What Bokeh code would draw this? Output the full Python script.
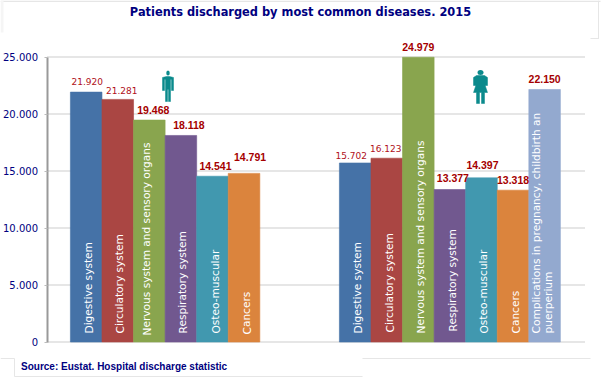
from bokeh.plotting import figure
from bokeh.models import ColumnDataSource, FixedTicker, CustomJSTickFormatter, Range1d, BoxAnnotation
from bokeh.core.properties import value
from bokeh.embed import file_html
from bokeh.resources import INLINE

categories = ["Digestive system", "Circulatory system", "Nervous system and sensory organs",
              "Respiratory system", "Osteo-muscular", "Cancers",
              "Complications in pregnancy, childbirth an\npuerperium"]
men = [21920, 21281, 19468, 18118, 14541, 14791, None]
women = [15702, 16123, 24979, 13377, 14397, 13318, 22150]
tick_values = [0, 5000, 10000, 15000, 20000, 25000]
tick_labels = {0: "0", 5000: "5.000", 10000: "10.000", 15000: "15.000", 20000: "20.000", 25000: "25.000"}
colors = ["#4572A7", "#AA4643", "#89A54E", "#71588F", "#4198AF", "#DB843D", "#93A9CF"]

W, H = 601, 378
L, R, T, B = 46.5, 584.5, 56.5, 341.5   # plot area in page pixels
bw = 31.57
group_px = (R - L) / 2


def yv(py):
    return (B - py) / (B - T) * 25000


p = figure(width=W, height=H, output_backend="svg", toolbar_location=None,
           x_range=Range1d(0, W), y_range=Range1d(yv(H), yv(0)),
           min_border_left=0, min_border_right=0, min_border_top=0, min_border_bottom=0)
p.outline_line_color = None
p.background_fill_color = "white"
p.xgrid.visible = False
p.ygrid.visible = False
p.xaxis.visible = False
p.segment(x0=[L] * len(tick_values), x1=[R] * len(tick_values), y0=tick_values, y1=tick_values,
          line_color="#E6E6E6", line_width=2)
p.yaxis.fixed_location = L
p.yaxis.bounds = (0, 25000)
p.yaxis.ticker = FixedTicker(ticks=tick_values)
p.yaxis.formatter = CustomJSTickFormatter(args=dict(m={str(k): v for k, v in tick_labels.items()}),
                                          code="return m[String(tick)]")
p.yaxis.axis_line_color = "#999999"
p.yaxis.axis_line_width = 2
p.yaxis.major_tick_line_color = "#BBBBBB"
p.yaxis.major_tick_in = 0
p.yaxis.major_tick_out = 3
p.yaxis.minor_tick_line_color = None
p.yaxis.major_label_text_color = "#000080"
p.yaxis.major_label_text_font = "DejaVu Sans"
p.yaxis.major_label_text_font_size = "10px"
p.yaxis.major_label_standoff = 6

# per-label pixel nudges (dx, dy) as in the reference
men_off = [(1, 11), (4, 9), (4, 10), (8, 10), (3, 10), (6, 16)]
women_off = [(-4, 7), (-1, 10), (0, 10), (3, 12), (1, 13), (0, 10), (0, 10)]
men_bold = [False, False, True, True, True, True]
women_bold = [False, False, True, True, True, True, True]
men_lab = [(88, 333), (119, 333), (146, 335), (182, 333), (215, 333), (246, 334)]
women_lab = [(357, 333), (389, 332), (420, 333), (452, 331), (483, 333), (515, 333), (541.5, 333)]

for g, (vals, offs, bolds, labs) in enumerate([(men, men_off, men_bold, men_lab),
                                               (women, women_off, women_bold, women_lab)]):
    centre = L + group_px * (g + 0.5) - 0.6
    idx = [i for i, v in enumerate(vals) if v is not None]
    src = ColumnDataSource(dict(
        x=[centre + (i - 3) * bw for i in idx],
        top=[vals[i] for i in idx],
        color=[colors[i] for i in idx],
    ))
    p.vbar(x="x", top="top", bottom=0, width=bw, fill_color="color", line_color="color",
           line_alpha=0.6, line_width=1, source=src)
    for k, i in enumerate(idx):
        dx, dy = offs[k]
        p.text(x=[centre + (i - 3) * bw], y=[vals[i]], text=[f"{vals[i]:,}".replace(",", ".")],
               x_offset=dx, y_offset=-dy, text_align="center", text_baseline="middle",
               text_color="#A50000" if bolds[k] else "#B01020",
               text_font=value("Liberation Sans" if bolds[k] else "DejaVu Sans"),
               text_font_style="bold" if bolds[k] else "normal",
               text_font_size="10.5px" if bolds[k] else "9px")
        lx, ly = labs[k]
        p.text(x=[lx], y=[yv(ly)], text=[categories[i]], angle=1.5708,
               text_align="left", text_baseline="middle", text_color="white",
               text_font=value("DejaVu Sans"), text_font_size="10.6px", text_line_height=1.0)

# person icons (decoration), outlines in page pixels
teal = "#0B8A8C"
man = [(166, 76), (162, 77), (162, 90), (164, 90), (164, 79), (165, 79), (165, 101), (167, 101), (167, 89),
       (168, 89), (168, 101), (170, 101), (170, 79), (171, 79), (171, 90), (173, 90), (173, 77), (169, 76)]
woman = [(476, 75), (473, 77), (473, 85), (475, 85), (475, 86), (473, 92), (476, 92), (476, 103), (479, 103),
         (479, 92), (481, 92), (481, 103), (484, 103), (484, 92), (487, 92), (485, 86), (485, 85), (487, 85),
         (487, 77), (484, 75)]
for pts in (man, woman):
    p.patch([a for a, _ in pts], [yv(b) for _, b in pts], fill_color=teal, line_color=teal, line_width=0.5)
p.ellipse(x=[167.5], y=[yv(72.5)], width=3.5, height=yv(70) - yv(75), fill_color=teal, line_color=None)
p.ellipse(x=[480], y=[yv(72)], width=6, height=yv(69.5) - yv(74.5), fill_color=teal, line_color=None)

# title and source
p.text(x=[300], y=[yv(11)], text=["Patients discharged by most common diseases. 2015"],
       text_align="center", text_baseline="middle", text_color="#000080",
       text_font=value("DejaVu Sans"), text_font_style="bold", text_font_size="11.4px")
p.text(x=[20.5], y=[yv(365.5)], text=["Source: Eustat. Hospital discharge statistic"],
       text_align="left", text_baseline="middle", text_color="#000080",
       text_font=value("Liberation Sans"), text_font_style="bold", text_font_size="10px")

# thin frame pieces around the title and source boxes, in page pixels
frame = [(0, 600, 0, 1.5), (0, 3, 0, 32), (597.5, 598.5, 0, 38), (590, 598.5, 37.5, 38.5),
         (0, 14, 357.5, 358.5), (13.5, 14.5, 358, 376), (14, 362, 375.5, 376.5), (362, 590, 357.5, 358.5)]
for l_, r_, t_, b_ in frame:
    p.add_layout(BoxAnnotation(left=l_, right=r_, top=t_, bottom=b_, left_units="canvas", right_units="canvas",
                               top_units="canvas", bottom_units="canvas",
                               fill_color="#F5F5F5" if (l_, r_) == (0, 3) else "#E6E6E6", fill_alpha=1, line_color=None))

open("out.html", "w").write(file_html(p, INLINE))
